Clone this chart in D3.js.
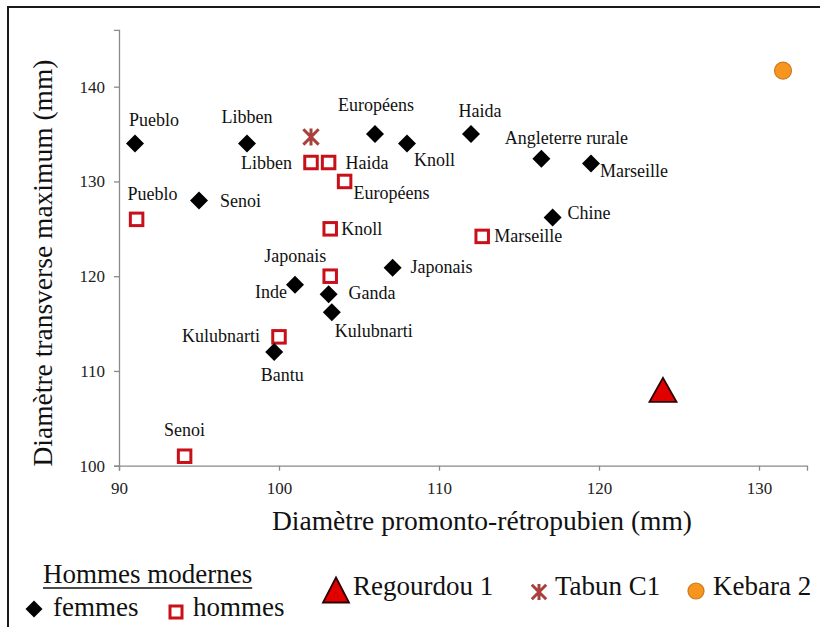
<!DOCTYPE html>
<html>
<head>
<meta charset="utf-8">
<script src="https://cdn.jsdelivr.net/npm/d3@7"></script>
<style>
  html, body { margin: 0; padding: 0; background: #fff; }
  svg { display: block; }
</style>
</head>
<body>
<svg id="chart" width="820" height="627"></svg>
<script>
// Pelvic dimensions: modern human samples (women / men) and three fossils
const femmesNames = ["Pueblo", "Libben", "Européens", "Knoll", "Haida", "Angleterre rurale", "Marseille",
                     "Senoi", "Chine", "Japonais", "Inde", "Ganda", "Kulubnarti", "Bantu"];
const femmesX = [91, 98, 106, 108, 112, 116.4, 119.5, 95, 117.1, 107.1, 101, 103.1, 103.3, 99.7];
const femmesY = [134, 134, 135, 134, 135, 132.4, 131.9, 128, 126.2, 120.9, 119.1, 118.1, 116.2, 112];

const hommesNames = ["Libben", "Haida", "Européens", "Pueblo", "Knoll", "Marseille", "Japonais", "Kulubnarti", "Senoi"];
const hommesX = [102, 103.1, 104.1, 91.1, 103.2, 112.7, 103.2, 100, 94.1];
const hommesY = [132, 132, 130, 126, 125, 124.2, 120, 113.6, 101];

const fossilNames = ["Regourdou 1", "Tabun C1", "Kebara 2"];
const fossilX = [124, 102, 131.5];
const fossilY = [108, 134.7, 141.7];

const xTicks = [90, 100, 110, 120, 130];
const yTicks = [100, 110, 120, 130, 140];

const xTitle = "Diamètre promonto-rétropubien (mm)";
const yTitle = "Diamètre transverse maximum (mm)";
const legendTitle = "Hommes modernes";
const legendFemmes = "femmes";
const legendHommes = "hommes";

// Label placement around each marker: [dx, dy, anchor]
const femmesLabelPos = {
  "Pueblo": [19, -18, "middle"], "Libben": [0, -21, "middle"], "Européens": [1, -23, "middle"],
  "Knoll": [7, 22, "start"], "Haida": [9, -17, "middle"], "Angleterre rurale": [25, -15, "middle"],
  "Marseille": [9, 14, "start"], "Senoi": [21, 7, "start"], "Chine": [15, 2, "start"],
  "Japonais": [18, 5, "start"], "Inde": [-8, 13, "end"], "Ganda": [20, 5, "start"],
  "Kulubnarti": [3, 25, "start"], "Bantu": [8, 29, "middle"]
};
const hommesLabelPos = {
  "Libben": [-19, 6, "end"], "Haida": [17, 6, "start"], "Européens": [9, 18, "start"],
  "Pueblo": [16, -19, "middle"], "Knoll": [11, 6, "start"], "Marseille": [12, 6, "start"],
  "Japonais": [-4, -14, "end"], "Kulubnarti": [-19, 5, "end"], "Senoi": [0, -20, "middle"]
};

const SERIF = '"Liberation Serif", serif';
const svg = d3.select("#chart").style("font-family", SERIF);

// text helper with the serif face set inline
function label(g, tx, ty, str, size, anchor) {
  return g.append("text").attr("x", tx).attr("y", ty).attr("text-anchor", anchor || "start")
    .style("font-family", SERIF).style("font-size", size + "px").attr("fill", "#111").text(str);
}

// outer frame
svg.append("rect").attr("x", 8).attr("y", 7).attr("width", 830).attr("height", 650)
  .attr("fill", "none").attr("stroke", "#1a1a1a").attr("stroke-width", 2);

const x = d3.scaleLinear().domain([90, 133]).range([119, 807]);
const y = d3.scaleLinear().domain([100, 146]).range([465.7, 29.85]);

const axisColor = "#8a8a8a";

const gx = svg.append("g").attr("transform", `translate(0,${y(100)})`)
  .call(d3.axisBottom(x).tickValues(xTicks).tickSize(5).tickPadding(11).tickFormat(d3.format("d")));
const gy = svg.append("g").attr("transform", `translate(${x(90)},0)`)
  .call(d3.axisLeft(y).tickValues(yTicks).tickSize(5).tickPadding(9).tickFormat(d3.format("d")));
[gx, gy].forEach(g => {
  g.attr("font-family", null);
  g.select(".domain").attr("stroke", axisColor).attr("stroke-width", 1.3);
  g.selectAll(".tick line").attr("stroke", axisColor).attr("stroke-width", 1.3);
  g.selectAll(".tick text").style("font-family", SERIF).style("font-size", "17px").attr("fill", "#222");
});

label(svg, 482, 530, xTitle, 27.5, "middle");
label(svg, 0, 0, yTitle, 27.5, "middle").attr("transform", "translate(52,263) rotate(-90)");

// marker painters
function diamond(g, cx, cy, h) {
  g.append("path").attr("d", `M${cx},${cy - h}L${cx + h},${cy}L${cx},${cy + h}L${cx - h},${cy}Z`)
    .attr("fill", "#000");
}
function square(g, cx, cy, s) {
  g.append("rect").attr("x", cx - s / 2).attr("y", cy - s / 2).attr("width", s).attr("height", s)
    .attr("fill", "#fff").attr("stroke", "#c8101a").attr("stroke-width", 3);
}
function triangle(g, cx, cy, w, h) {
  g.append("path").attr("d", `M${cx},${cy - h / 2}L${cx + w / 2},${cy + h / 2}L${cx - w / 2},${cy + h / 2}Z`)
    .attr("fill", "#e00000").attr("stroke", "#2a0000").attr("stroke-width", 1.8);
}
function asterisk(g, cx, cy, r) {
  const a = r * 0.9;
  g.append("path")
    .attr("d", `M${cx - a},${cy - a}L${cx + a},${cy + a}M${cx + a},${cy - a}L${cx - a},${cy + a}M${cx},${cy - r}L${cx},${cy + r}`)
    .attr("stroke", "#a8403c").attr("stroke-width", 3).attr("fill", "none");
}
function disc(g, cx, cy, r) {
  g.append("circle").attr("cx", cx).attr("cy", cy).attr("r", r)
    .attr("fill", "#f7951e").attr("stroke", "#c97a1c").attr("stroke-width", 1.2);
}

const marks = svg.append("g");
const labels = svg.append("g");

// men (open squares)
hommesNames.forEach((n, i) => {
  const cx = x(hommesX[i]), cy = y(hommesY[i]);
  square(marks, cx, cy, 12.5);
  const p = hommesLabelPos[n];
  label(labels, cx + p[0], cy + p[1], n, 18, p[2]);
});

// women (black diamonds)
femmesNames.forEach((n, i) => {
  const cx = x(femmesX[i]), cy = y(femmesY[i]);
  diamond(marks, cx, cy, 9);
  const p = femmesLabelPos[n];
  label(labels, cx + p[0], cy + p[1], n, 18, p[2]);
});

// fossils
triangle(marks, x(fossilX[0]), y(fossilY[0]), 27, 24);
asterisk(marks, x(fossilX[1]), y(fossilY[1]), 8.5);
disc(marks, x(fossilX[2]), y(fossilY[2]), 8.5);

// legend
const lg = svg.append("g");
const title = label(lg, 43, 583, legendTitle, 27);
const tw = title.node().getComputedTextLength();
lg.append("line").attr("x1", 43).attr("x2", 43 + tw).attr("y1", 588).attr("y2", 588)
  .attr("stroke", "#111").attr("stroke-width", 1.3);

diamond(lg, 34, 609, 8.5);
label(lg, 53, 616, legendFemmes, 27);
square(lg, 176, 612, 12);
label(lg, 193, 616, legendHommes, 27);

triangle(lg, 336, 590, 26, 25);
label(lg, 353, 595, fossilNames[0], 27);
asterisk(lg, 539, 592, 8);
label(lg, 555, 595, fossilNames[1], 27);
disc(lg, 696, 591, 8);
label(lg, 713, 595, fossilNames[2], 27);
</script>
</body>
</html>
